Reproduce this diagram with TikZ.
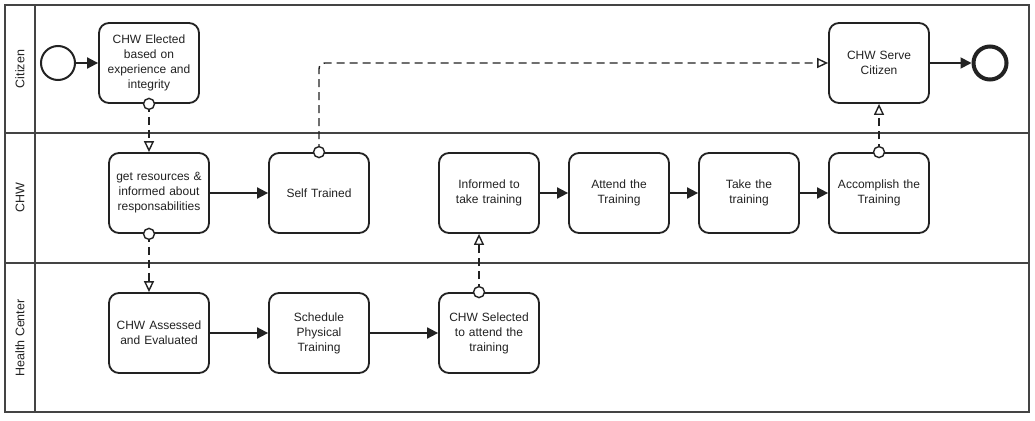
\documentclass[tikz,border=0pt]{standalone}
\usepackage{fontspec}
\setmainfont{Liberation Sans}
\usetikzlibrary{arrows.meta,calc}
\definecolor{ink}{HTML}{222222}
\definecolor{poolc}{HTML}{444444}
\tikzset{
  task/.style={draw=ink, line width=1.8pt, rounded corners=10pt, fill=white,
    minimum width=100pt, minimum height=80pt, align=center, text width=92pt,
    font=\fontsize{12}{15}\selectfont, text=ink},
  seq/.style={draw=ink, line width=1.8pt, -{Triangle[length=11pt,width=11pt]}},
  msg/.style={draw=ink, line width=1.4pt, dash pattern=on 8pt off 5pt,
    -{Triangle[open,fill=white,length=11pt,width=10pt]}},
  msgdot/.style={circle, draw=ink, solid, line width=1.4pt, fill=white, inner sep=0pt, minimum size=11pt},
  poolline/.style={draw=poolc, line width=1.6pt},
  lanelabel/.style={rotate=90, font=\fontsize{12.5}{14}\selectfont, text=ink},
}
\begin{document}
\begin{tikzpicture}[x=1pt,y=-1pt]
\useasboundingbox (0,0) rectangle (1035,420);
\fill[white] (0,0) rectangle (1035,420);
% pool and lanes
\draw[poolline] (5,5) rectangle (1029,412);
\draw[poolline] (35,5) -- (35,412);
\draw[poolline] (5,133) -- (1029,133);
\draw[poolline] (5,263) -- (1029,263);
\node[lanelabel] (lc) at (20,69) {Citizen};
\node[lanelabel] (lw) at (20,198) {CHW};
\node[lanelabel] (lh) at (20,338) {Health Center};
% events
\node[circle, draw=ink, line width=2pt, minimum size=34pt, inner sep=0pt] (start) at (58,63) {};
\node[circle, draw=ink, line width=4pt, minimum size=33pt, inner sep=0pt] (end) at (990,63) {};
% tasks
\node[task] (elect) at (149,63) {CHW Elected\\based on\\experience and\\integrity};
\node[task] (serve) at (879,63) {CHW Serve\\Citizen};
\node[task] (res) at (159,193) {get resources \&\\informed about\\responsabilities};
\node[task] (self) at (319,193) {Self Trained};
\node[task] (inf) at (489,193) {Informed to\\take training};
\node[task] (att) at (619,193) {Attend the\\Training};
\node[task] (take) at (749,193) {Take the\\training};
\node[task] (acc) at (879,193) {Accomplish the\\Training};
\node[task] (ass) at (159,333) {CHW Assessed\\and Evaluated};
\node[task] (sch) at (319,333) {Schedule\\Physical\\Training};
\node[task] (sel) at (489,333) {CHW Selected\\to attend the\\training};
% sequence flows
\draw[seq] (start) -- (elect);
\draw[seq] (serve) -- (end);
\draw[seq] (res) -- (self);
\draw[seq] (inf) -- (att);
\draw[seq] (att) -- (take);
\draw[seq] (take) -- (acc);
\draw[seq] (ass) -- (sch);
\draw[seq] (sch) -- (sel);
% message flows
\draw[msg] (elect.south) node[msgdot]{} -- (elect.south |- res.north);
\draw[msg] ($(res.south)+(-10,0)$) node[msgdot]{} -- ($(ass.north)+(-10,0)$);
\draw[msg] ($(sel.north)+(-10,0)$) node[msgdot]{} -- ($(inf.south)+(-10,0)$);
\draw[msg] (acc.north) node[msgdot]{} -- (serve.south);
\draw[msg, rounded corners=6pt] (self.north) node[msgdot]{} |- (serve.west);
\end{tikzpicture}
\end{document}
